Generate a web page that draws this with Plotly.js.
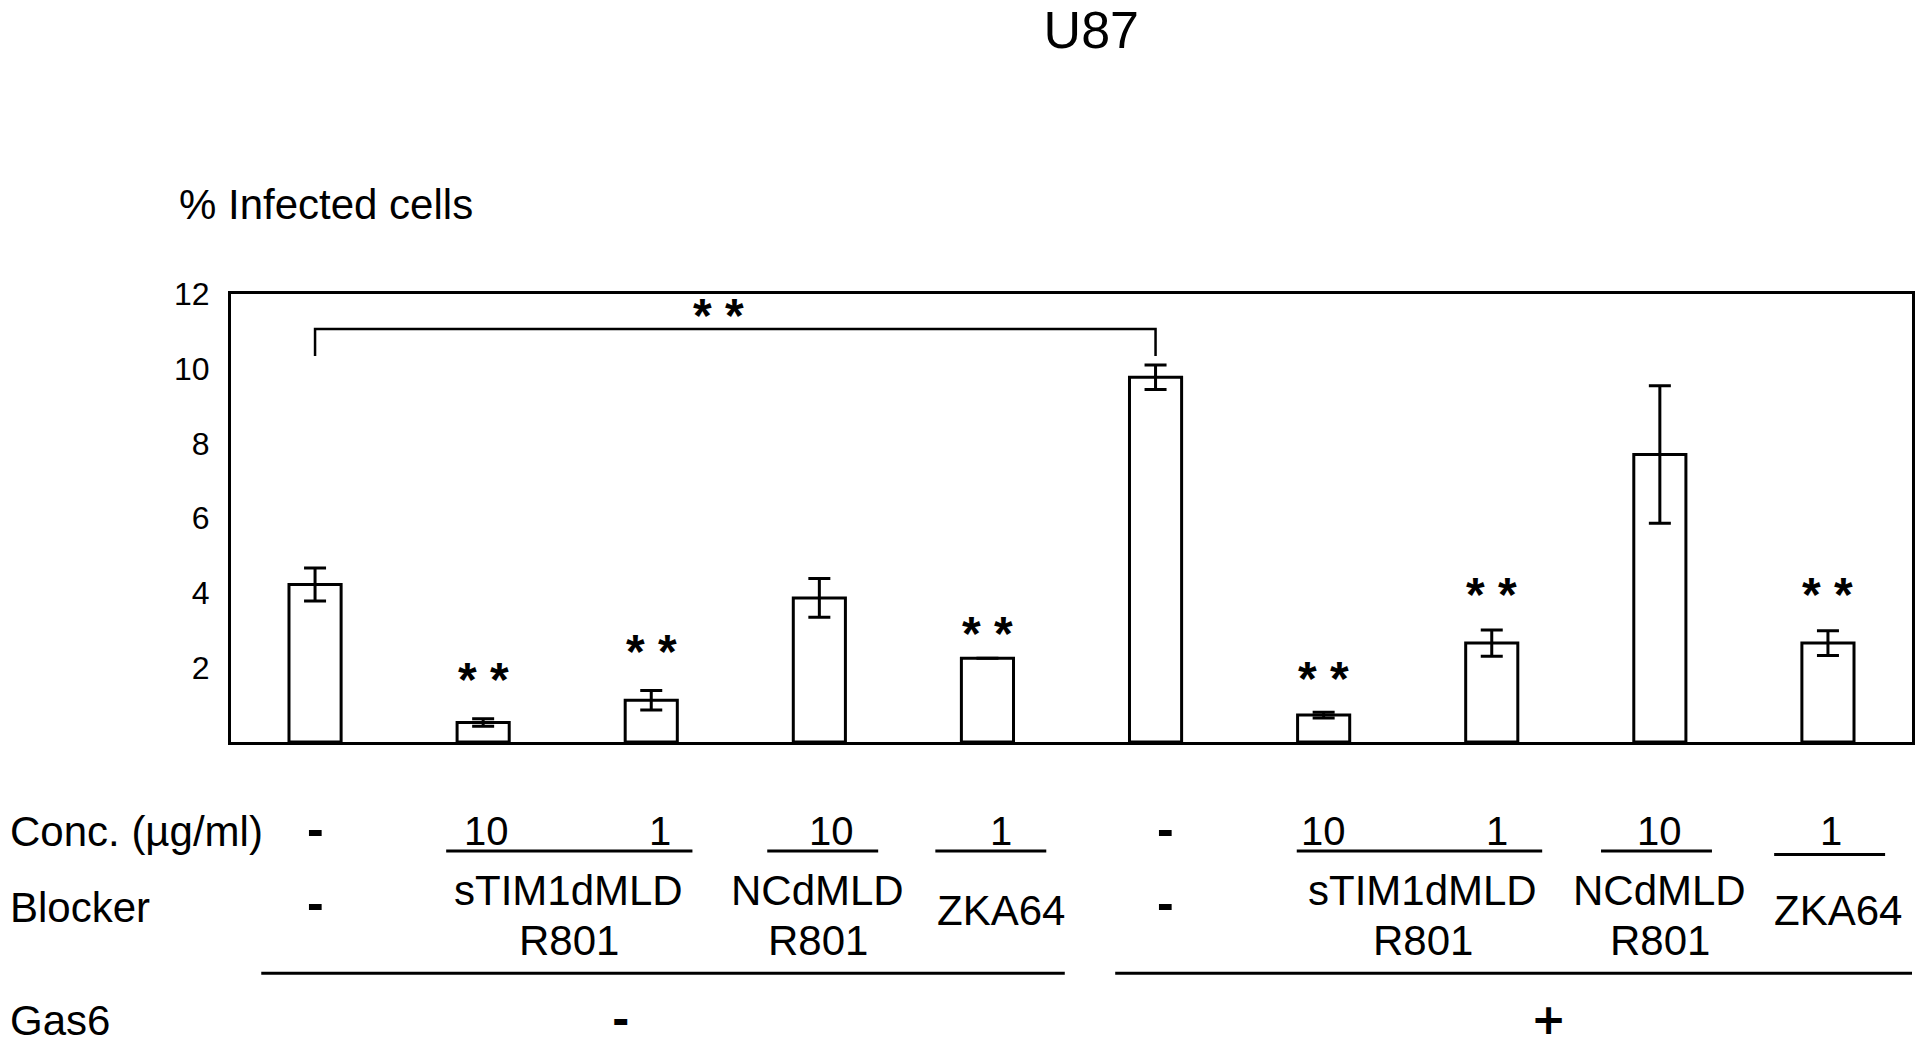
<!DOCTYPE html>
<html><head><meta charset="utf-8">
<script src="https://cdn.plot.ly/plotly-3.0.1.min.js"></script>
<style>html,body{margin:0;padding:0;background:#fff}#chart{width:1920px;height:1044px}</style>
</head><body><div id="chart"></div>
<script>
// ---- data ----
const barIndex = [0, 1, 2, 3, 4, 5, 6, 7, 8, 9];
const infectedPct = [4.22, 0.52, 1.12, 3.86, 2.24, 9.77, 0.72, 2.65, 7.70, 2.65];
const infectedErr = [0.44, 0.10, 0.26, 0.52, 0.00, 0.33, 0.08, 0.35, 1.84, 0.33];
const starLevel = [null, 1.83, 2.59, null, 3.08, null, 1.87, 4.11, null, 4.11];
const starText = '* *';
const concLabels = ['-', '10', '1', '10', '1', '-', '10', '1', '10', '1'];
const blockerLabels = ['-', 'sTIM1dMLD|R801', 'NCdMLD|R801', 'ZKA64', '-', 'sTIM1dMLD|R801', 'NCdMLD|R801', 'ZKA64'];
const gas6Labels = ['-', '+'];
const rowLabels = ['Conc. (µg/ml)', 'Blocker', 'Gas6'];
const yTicks = [2, 4, 6, 8, 10, 12];
const titleText = 'U87';
const yTitle = '% Infected cells';

// ---- layout geometry ----
const FONT = 'Liberation Sans, Arial, sans-serif';
const PL = 231, PR = 1912, PT = 294, PB = 741.7;
const H = PB - PT;
const py = p => (PB - p) / H;         // pixel y -> paper y
const pxp = p => (p - PL) / (PR - PL); // pixel x -> paper x

const concX = [0, 1.02, 2.05, 3.075, 4.08, 5.06, 6.0, 7.03, 8.0, 9.02];
const concUnder = [[0.78, 2.245, 850.7], [2.69, 3.35, 850.7], [3.69, 4.35, 850.7],
                   [5.84, 7.30, 850.7], [7.65, 8.31, 850.7], [8.68, 9.34, 854]];
const blockerX = [0, 1.51, 2.99, 4.08, 5.06, 6.59, 8.0, 9.06];
const gasX = [1.82, 7.34];
const gasLines = [[-0.32, 4.46], [4.76, 9.55]];

const annotations = [];
const shapes = [];
const txt = (x, y, text, size, opts = {}) => Object.assign({
  x: x, y: y, xref: 'x', yref: 'paper', text: text, showarrow: false,
  xanchor: 'center', yanchor: 'middle', font: {family: FONT, size: size, color: '#000'}
}, opts);

// y-axis title
annotations.push(txt(pxp(176.7), py(204.7), yTitle, 42, {xref: 'paper', xanchor: 'left'}));

// stars over bars
const starFont = {family: FONT, size: 48, color: '#000'};
barIndex.forEach((i) => {
  if (starLevel[i] !== null) {
    annotations.push({x: i, y: starLevel[i], xref: 'x', yref: 'y', text: '<b>' + starText + '</b>',
      showarrow: false, yshift: -6, font: starFont});
  }
});
// bracket + stars
shapes.push({type: 'path', xref: 'x', yref: 'y', path: 'M 0 10.34 L 0 11.06 L 5 11.06 L 5 10.34',
  line: {color: '#000', width: 2.5}});
annotations.push({x: 2.4, y: 11.59, xref: 'x', yref: 'y', text: '<b>' + starText + '</b>', showarrow: false,
  yshift: -6, font: starFont});

// row labels
annotations.push(txt(pxp(8), py(831), rowLabels[0], 42, {xref: 'paper', xanchor: 'left'}));
annotations.push(txt(pxp(8), py(907), rowLabels[1], 42, {xref: 'paper', xanchor: 'left'}));
annotations.push(txt(pxp(8), py(1020), rowLabels[2], 42, {xref: 'paper', xanchor: 'left'}));

// conc row
concLabels.forEach((t, i) => {
  if (t === '-') annotations.push(txt(concX[i], py(829), '<b>-</b>', 50));
  else annotations.push(txt(concX[i], py(831), t, 40));
});
concUnder.forEach(u => shapes.push({type: 'line', xref: 'x', yref: 'paper', x0: u[0], x1: u[1],
  y0: py(u[2]), y1: py(u[2]), line: {color: '#000', width: 3}}));

// blocker row
blockerLabels.forEach((t, i) => {
  if (t === '-') { annotations.push(txt(blockerX[i], py(903), '<b>-</b>', 50)); return; }
  const parts = t.split('|');
  if (parts.length === 2) {
    annotations.push(txt(blockerX[i], py(890), parts[0], 42));
    annotations.push(txt(blockerX[i], py(940), parts[1], 42));
  } else {
    annotations.push(txt(blockerX[i], py(910), parts[0], 42));
  }
});

// gas6 row
gasLines.forEach(g => shapes.push({type: 'line', xref: 'x', yref: 'paper', x0: g[0], x1: g[1],
  y0: py(972.7), y1: py(972.7), line: {color: '#000', width: 3}}));
gas6Labels.forEach((t, i) => annotations.push(txt(gasX[i], py(1019), '<b>' + t + '</b>', 42,
  {font: {family: 'DejaVu Sans, ' + FONT, size: 42, color: '#000'}})));

const trace = {
  type: 'bar', x: barIndex, y: infectedPct, width: 0.31,
  marker: {color: '#fff', line: {color: '#000', width: 3}},
  error_y: {type: 'data', array: infectedErr, visible: true, color: '#000', thickness: 3, width: 11},
  hoverinfo: 'y'
};

const layout = {
  width: 1920, height: 1044,
  margin: {l: PL, r: 1920 - PR, t: PT, b: 1044 - PB, pad: 0},
  paper_bgcolor: '#fff', plot_bgcolor: '#fff',
  showlegend: false,
  title: {text: titleText, x: pxp(1091.3), xref: 'paper', y: 1 - 30 / 1044, yref: 'container',
    xanchor: 'center', yanchor: 'middle',
    font: {family: FONT, size: 52, color: '#000'}},
  xaxis: {range: [-0.5, 9.5], showticklabels: false, ticks: '', showgrid: false, zeroline: false,
    showline: true, mirror: true, linecolor: '#000', linewidth: 3, fixedrange: true},
  yaxis: {range: [0, 12], tickvals: yTicks, ticktext: yTicks.map(String), ticks: '',
    ticklabelstandoff: 12, showgrid: false, zeroline: false,
    showline: true, mirror: true, linecolor: '#000', linewidth: 3,
    tickfont: {family: FONT, size: 32, color: '#000'}, fixedrange: true},
  annotations: annotations,
  shapes: shapes
};

Plotly.newPlot('chart', [trace], layout, {displayModeBar: false, staticPlot: true});
</script></body></html>
